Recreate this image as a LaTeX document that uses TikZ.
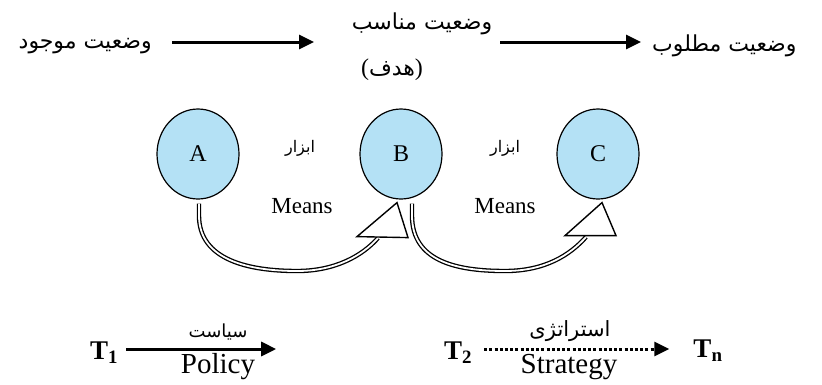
\documentclass[tikz,border=0pt]{standalone}
\usepackage{fontspec}
\setmainfont{Liberation Serif}
\newfontfamily\fa[Script=Arabic]{DejaVu Sans}
\TeXXeTstate=1
\usetikzlibrary{arrows.meta,shapes.geometric}
\definecolor{cfill}{RGB}{180,225,245}
\tikzset{
  circ/.style={ellipse,draw=black,line width=1.2pt,fill=cfill,minimum width=82pt,minimum height=90pt,inner sep=0pt,font=\fontsize{24}{24}\selectfont},
  fatext/.style={font=\fa\fontsize{22}{26}\selectfont,inner sep=0pt},
  lat/.style={font=\fontsize{23}{26}\selectfont,inner sep=0pt},
  big/.style={font=\fontsize{29}{32}\selectfont,inner sep=0pt},
  tlab/.style={font=\bfseries\fontsize{27}{30}\selectfont,inner sep=0pt},
  thick arrow/.style={line width=3pt,-{Triangle[length=15pt,width=14pt]}},
  dot arrow/.style={line width=3pt,dash pattern=on 3pt off 2.2pt,-{Triangle[length=15pt,width=14pt]}},
  shaft/.style={draw=black,line width=1.3pt,double=white,double distance=1.8pt},
  hollowhead/.style={draw=black,line width=1.4pt,fill=white,line join=miter},
}
\begin{document}
\begin{tikzpicture}[x=1pt,y=-1pt]
\useasboundingbox (0,0) rectangle (822,384);
% top row
\node[fatext,anchor=east] (cur) at (152,46) {\beginR وضعیت موجود\endR};
\node[fatext] (mid) at (422,24) {\beginR وضعیت مناسب\endR};
\node[fatext] (goal) at (392,70) {{\rmfamily\fontsize{24}{26}\selectfont(}\beginR هدف\endR{\rmfamily\fontsize{24}{26}\selectfont)}};
\node[fatext,anchor=west] (des) at (652,46) {\beginR وضعیت مطلوب\endR};
\coordinate (a1s) at (172,42);
\coordinate (a1e) at (314,42);
\coordinate (a2s) at (500,42);
\coordinate (a2e) at (641,42);
\draw[thick arrow] (a1s) -- (a1e);
\draw[thick arrow] (a2s) -- (a2e);
% circles
\node[circ] (A) at (198,154) {A};
\node[circ] (B) at (401,154) {B};
\node[circ] (C) at (598,154) {C};
% labels
\node[fatext,font=\fa\fontsize{16}{18}\selectfont] (ab1) at (300,148) {\beginR ابزار\endR};
\node[lat] (m1) at (302,206) {Means};
\node[fatext,font=\fa\fontsize{16}{18}\selectfont] (ab2) at (505,148) {\beginR ابزار\endR};
\node[lat] (m2) at (505,206) {Means};
% curved hollow arrows
\coordinate (s1) at ([shift={(1,4)}]A.south);
\coordinate (tip1) at ([shift={(-4,3)}]B.south);
\coordinate (bl1) at ([shift={(-44,37)}]B.south);
\coordinate (br1) at ([shift={(7,38)}]B.south);
\draw[shaft] (s1) -- ++(0,12) .. controls ++(0,45) and (250,271) .. (297,271) .. controls (335,271) and (362,256) .. (378,238);
\draw[hollowhead] (tip1) -- (bl1) -- (br1) -- cycle;
\coordinate (s2) at ([shift={(11,4)}]B.south);
\coordinate (tip2) at ([shift={(4,3)}]C.south);
\coordinate (bl2) at ([shift={(-33,36)}]C.south);
\coordinate (br2) at ([shift={(18,36)}]C.south);
\draw[shaft] (s2) -- ++(0,12) .. controls ++(0,45) and (455,271) .. (505,271) .. controls (545,271) and (570,255) .. (586,237);
\draw[hollowhead] (tip2) -- (bl2) -- (br2) -- cycle;
% bottom row
\node[tlab] (T1) at (104,353) {T\textsubscript{1}};
\node[tlab] (T2) at (458,353) {T\textsubscript{2}};
\node[tlab] (Tn) at (708,351) {T\textsubscript{n}};
\draw[thick arrow] ([xshift=8]T1.east |- 0,349) -- ++(150,0) coordinate (p1e);
\draw[dot arrow] ([xshift=12]T2.east |- 0,349) -- ([xshift=-24]Tn.west |- 0,349);
\node[fatext,font=\fa\fontsize{18}{20}\selectfont] (pol) at (218,332) {\beginR سیاست\endR};
\node[big] (polE) at (218,367) {Policy};
\node[fatext,font=\fa\fontsize{21}{24}\selectfont] (str) at (570,331) {\beginR استراتژی\endR};
\node[big] (strE) at (569,367) {Strategy};
\end{tikzpicture}
\end{document}
